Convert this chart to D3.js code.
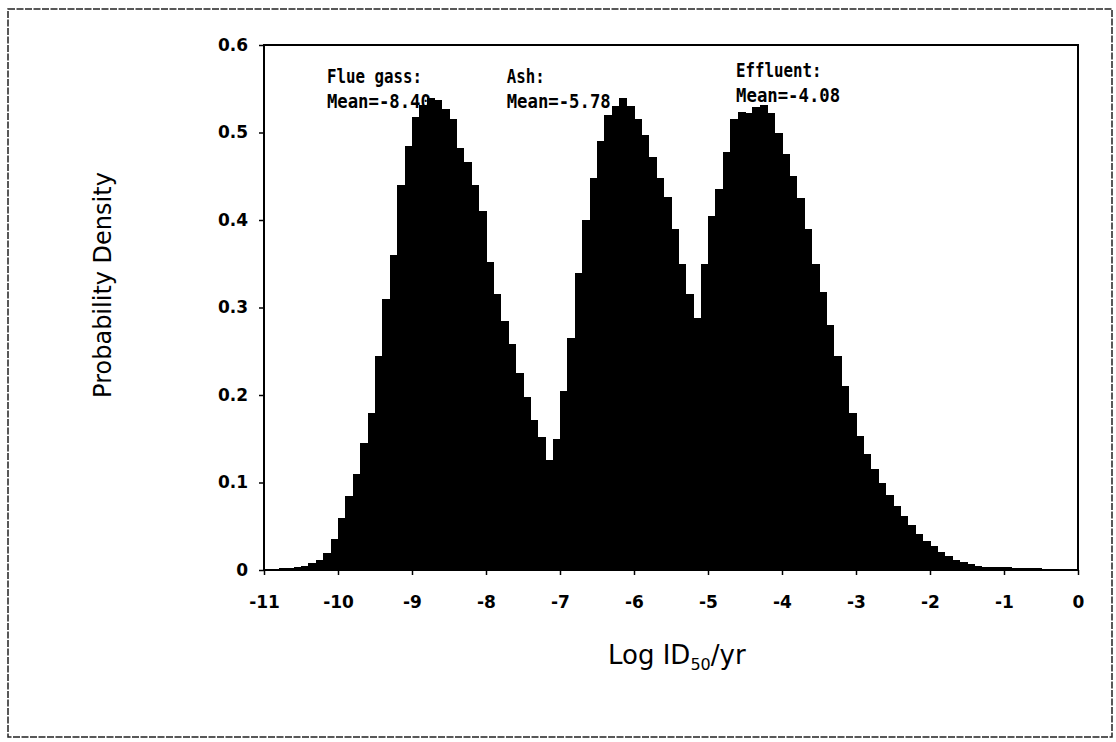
<!DOCTYPE html>
<html lang="en">
<head>
<meta charset="utf-8">
<script type="text/javascript" src="https://cdn.jsdelivr.net/npm/d3@7"></script>
<style>
body {
	margin:0;
	background:white;
}
svg {
	display:block;
}
rect.frame {
	fill:none;
	stroke:black;
	stroke-width:2;
}
rect.outer {
	fill:none;
	stroke:#222;
	stroke-width:1.5;
	stroke-dasharray:7,1.5;
}
rect.bin {
	fill:black;
	stroke:none;
	shape-rendering:crispEdges;
}
g.axis path {
	display:none;
}
g.axis line {
	stroke:black;
	stroke-width:1.5;
}
g.axis text {
	font-family:"DejaVu Sans", sans-serif;
	font-weight:bold;
	font-size:17px;
	fill:black;
}
text.note {
	font-family:"DejaVu Sans Mono", monospace;
	font-weight:bold;
	font-size:19px;
}
text.title {
	font-family:"DejaVu Sans", sans-serif;
	font-size:24px;
}
</style>

<script>

	// histogram of Log ID50/yr, bins of 0.1 starting at -11
	var binStart = -11, binWidth = 0.1;
	var density = [
		0.001, 0.001, 0.002, 0.002, 0.003, 0.005, 0.008, 0.012, 0.020, 0.036,	// -11 .. -10
		0.060, 0.085, 0.110, 0.145, 0.180, 0.245, 0.310, 0.360, 0.440, 0.485,	// -10 .. -9
		0.518, 0.532, 0.540, 0.537, 0.527, 0.515, 0.482, 0.466, 0.440, 0.410,	// -9 .. -8
		0.352, 0.316, 0.285, 0.258, 0.225, 0.198, 0.172, 0.152, 0.126, 0.150,	// -8 .. -7
		0.205, 0.265, 0.340, 0.400, 0.448, 0.490, 0.520, 0.530, 0.539, 0.530,	// -7 .. -6
		0.515, 0.497, 0.472, 0.448, 0.426, 0.390, 0.350, 0.315, 0.288, 0.350,	// -6 .. -5
		0.405, 0.435, 0.478, 0.515, 0.523, 0.522, 0.529, 0.531, 0.522, 0.500,	// -5 .. -4
		0.475, 0.450, 0.425, 0.390, 0.350, 0.318, 0.280, 0.245, 0.210, 0.180,	// -4 .. -3
		0.153, 0.133, 0.115, 0.100, 0.086, 0.073, 0.062, 0.051, 0.041, 0.033,	// -3 .. -2
		0.027, 0.021, 0.016, 0.012, 0.009, 0.007, 0.005, 0.004, 0.004, 0.003,	// -2 .. -1
		0.003, 0.002, 0.002, 0.002, 0.002, 0.001, 0.001, 0.001, 0.001, 0.001	// -1 .. 0
	];

	var xTicks = [-11, -10, -9, -8, -7, -6, -5, -4, -3, -2, -1, 0];
	var xTickLabels = ['-11', '-10', '-9', '-8', '-7', '-6', '-5', '-4', '-3', '-2', '-1', '0'];
	var yTicks = [0, 0.1, 0.2, 0.3, 0.4, 0.5, 0.6];
	var yTickLabels = ['0', '0.1', '0.2', '0.3', '0.4', '0.5', '0.6'];

	var noteSources = ['Flue gass:', 'Ash:', 'Effluent:'];
	var noteMeans = ['Mean=-8.40', 'Mean=-5.78', 'Mean=-4.08'];

	var w = 1116, h = 742;
	var plotLeft = 264, plotRight = 1078, plotTop = 45, plotBottom = 570;
	var svg, x, y;

	function doChart(){
		svg = d3.select('#chart').attr('width', w).attr('height', h);

		x = d3.scaleLinear().domain([-11, 0]).range([plotLeft, plotRight]);
		y = d3.scaleLinear().domain([0, 0.6]).range([plotBottom, plotTop]);

		// scanned page border
		svg.append('rect')
			.attr('class', 'outer')
			.attr('x', 8).attr('y', 9)
			.attr('width', 1104).attr('height', 728);

		svg.append('g').attr('id', 'bins')
			.selectAll('rect')
			.data(density)
			.enter()
			.append('rect')
			.attr('class', 'bin')
			.attr('x', function(d,i){ return x(binStart + i * binWidth); })
			.attr('width', function(d,i){ return x(binStart + (i + 1) * binWidth) - x(binStart + i * binWidth) + 0.6; })
			.attr('y', function(d){ return y(d); })
			.attr('height', function(d){ return y(0) - y(d); })
			;

		svg.append('rect')
			.attr('class', 'frame')
			.attr('x', plotLeft).attr('y', plotTop)
			.attr('width', plotRight - plotLeft).attr('height', plotBottom - plotTop);

		svg.append('g')
			.attr('class', 'axis')
			.attr('transform', 'translate(' + plotLeft + ',0)')
			.call(d3.axisLeft(y)
				.tickValues(yTicks)
				.tickFormat(function(d,i){ return yTickLabels[i]; })
				.tickSize(5)
				.tickPadding(11))
			;

		svg.append('g')
			.attr('class', 'axis')
			.attr('transform', 'translate(0,' + plotBottom + ')')
			.call(d3.axisBottom(x)
				.tickValues(xTicks)
				.tickFormat(function(d,i){ return xTickLabels[i]; })
				.tickSize(5)
				.tickPadding(21))
			;

		// annotation anchors, in data units
		var noteX = [-10.15, -7.72, -4.62];
		var noteY = [0.557, 0.557, 0.564];
		svg.selectAll('text.src')
			.data(noteSources)
			.enter()
			.append('text')
			.attr('class', 'note src')
			.attr('x', function(d,i){ return x(noteX[i]); })
			.attr('y', function(d,i){ return y(noteY[i]); })
			.attr('textLength', function(d){ return d.length * 9.5; })
			.attr('lengthAdjust', 'spacingAndGlyphs')
			.text(function(d){ return d; })
			;
		svg.selectAll('text.mean')
			.data(noteMeans)
			.enter()
			.append('text')
			.attr('class', 'note mean')
			.attr('x', function(d,i){ return x(noteX[i]); })
			.attr('y', function(d,i){ return y(noteY[i]) + 25; })
			.attr('textLength', function(d){ return d.length * 10.4; })
			.attr('lengthAdjust', 'spacingAndGlyphs')
			.text(function(d){ return d; })
			;

		svg.append('text')
			.attr('class', 'title')
			.attr('transform', 'translate(111,285) rotate(-90)')
			.attr('text-anchor', 'middle')
			.text('Probability Density');

		var xt = svg.append('text')
			.attr('class', 'title')
			.attr('x', 608).attr('y', 664)
			.style('font-size', '26px');
		xt.append('tspan').text('Log ID');
		xt.append('tspan').attr('dy', 6).style('font-size', '16px').text('50');
		xt.append('tspan').attr('dy', -6).text('/yr');
	}

</script>
</head>

<body onload="doChart();">
	<svg id="chart"></svg>
</body>
</html>
